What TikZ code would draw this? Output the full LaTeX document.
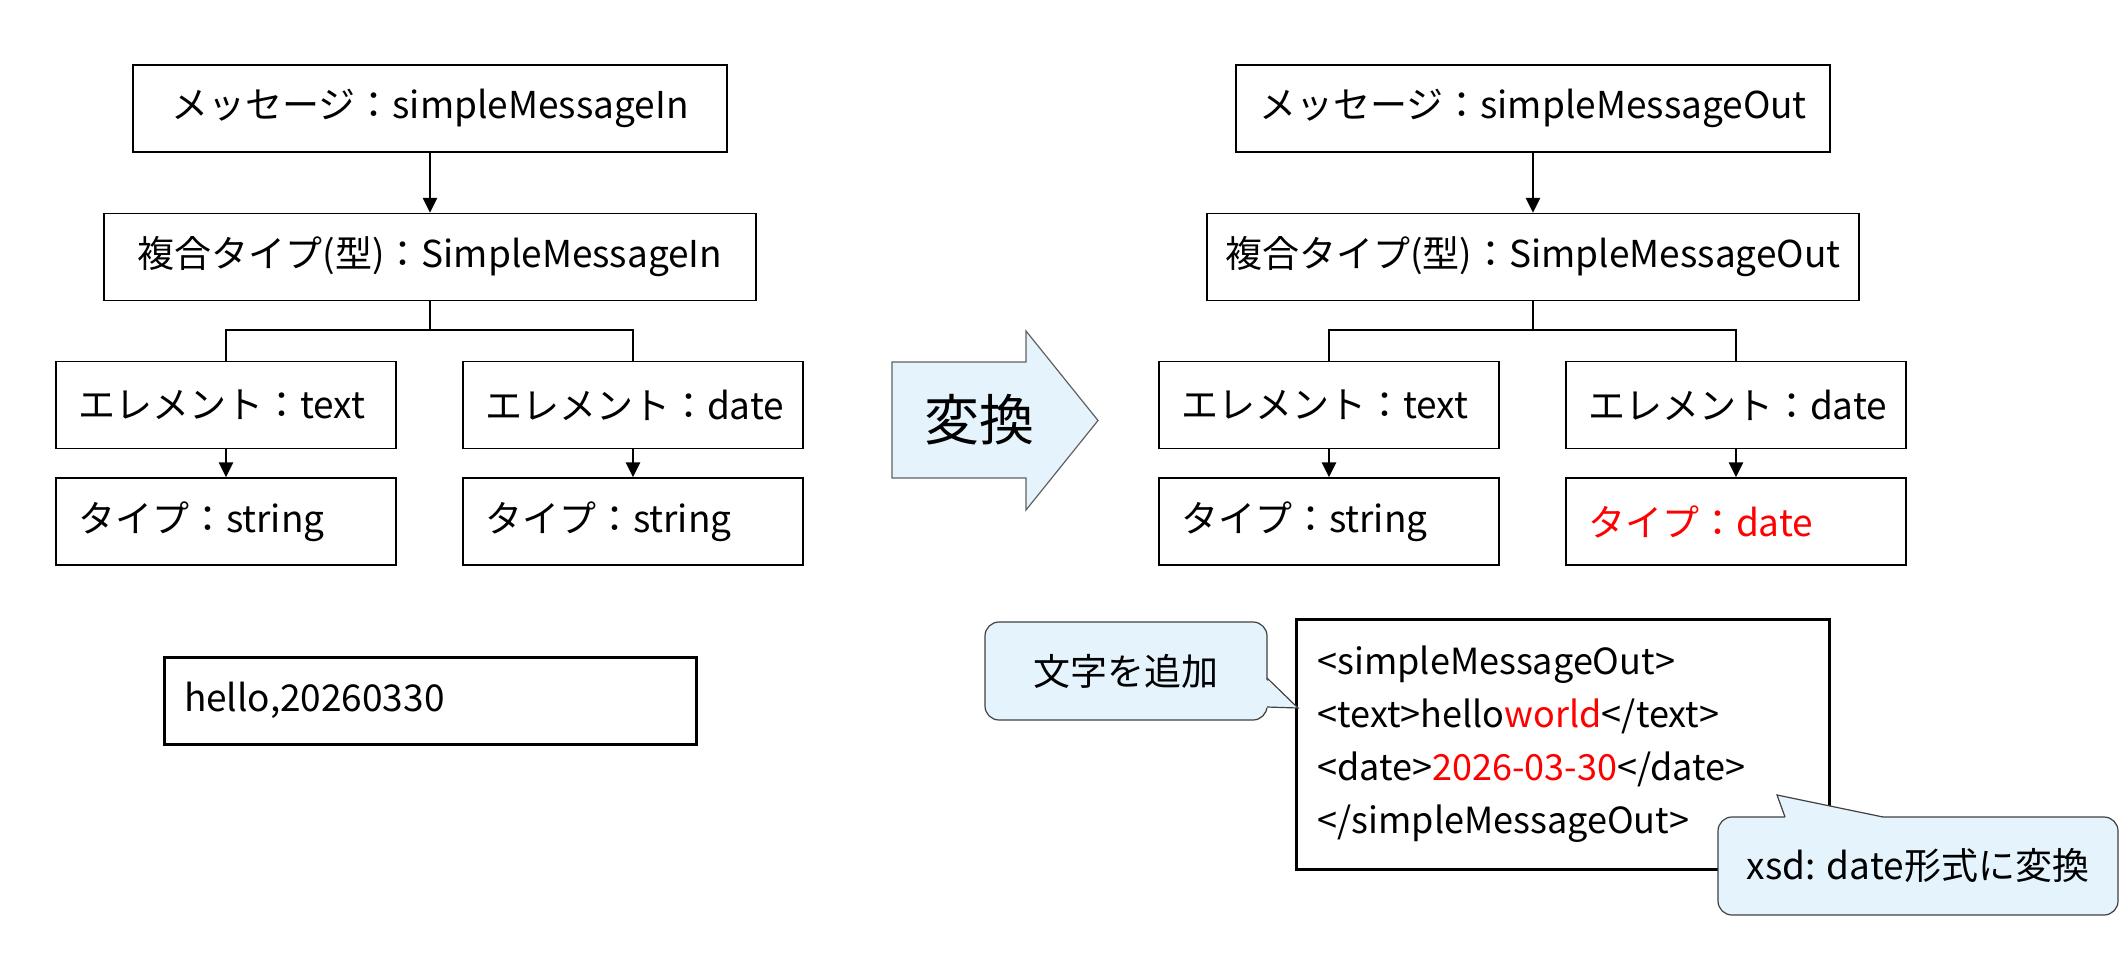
\documentclass[tikz,border=0pt]{standalone}
\usepackage{fontspec}
\setmainfont{Noto Sans CJK JP}
\usetikzlibrary{arrows.meta}
\definecolor{cfill}{HTML}{E5F4FC}
\definecolor{cborder}{HTML}{404040}
\definecolor{aborder}{HTML}{606060}
\newcommand\myfs{\fontsize{18.5pt}{22pt}\selectfont}
\begin{document}
\begin{tikzpicture}[x=0.5pt,y=-0.5pt,
  cbox/.style={draw, line width=0.65pt, minimum height=43.5pt, inner sep=0pt, font=\myfs},
  lbox/.style={draw, line width=0.65pt, minimum height=43.5pt, minimum width=170pt, text width=148pt, inner xsep=11pt, inner ysep=0pt, align=left, font=\myfs},
  dbox/.style={draw, line width=1.5pt, minimum height=43.5pt, text width=246pt, inner xsep=10pt, inner ysep=0pt, align=left, font=\myfs},
  xbox/.style={draw, line width=1.5pt, minimum height=125pt, text width=245.5pt, inner xsep=10.5pt, inner ysep=0pt, align=left, font=\fontsize{18pt}{26.5pt}\selectfont},
  callout/.style={draw=cborder, fill=cfill, line width=0.6pt, rounded corners=7pt, minimum height=49pt, inner sep=0pt, font=\myfs},
  arr/.style={line width=1.4pt, -{Triangle[length=7.5pt,width=7pt]}},
  conn/.style={line width=1.4pt}]
\useasboundingbox (0,0) rectangle (2128,952);

% left tree
\node[cbox, minimum width=297pt] (m1) at (430,108.5) {メッセージ：simpleMessageIn};
\node[cbox, minimum width=326pt] (c1) at (430,257) {複合タイプ(型)：SimpleMessageIn};
\node[lbox] (e1) at (226,405) {エレメント：text};
\node[lbox] (e2) at (633,405) {エレメント：date};
\node[lbox] (t1) at (226,521.5) {タイプ：string};
\node[lbox] (t2) at (633,521.5) {タイプ：string};
\coordinate (bus1) at (430,330);
\draw[arr] (m1) -- (c1);
\draw[conn] (c1.south) -- (bus1);
\draw[conn] (bus1) -| (e1.north);
\draw[conn] (bus1) -| (e2.north);
\draw[arr] (e1) -- (t1);
\draw[arr] (e2) -- (t2);
\node[dbox] (d1) at (430,700.5) {hello,20260330};

% transform arrow
\draw[draw=aborder, fill=cfill, line width=0.6pt] (892,362) -- (1026,362) -- (1026,331) -- (1098,420.5) -- (1026,510) -- (1026,478) -- (892,478) -- cycle;
\node[font=\fontsize{27.5pt}{30pt}\selectfont] (hen) at (979,420) {変換};

% right tree
\node[cbox, minimum width=297pt] (m2) at (1533,108.5) {メッセージ：simpleMessageOut};
\node[cbox, minimum width=326pt] (c2) at (1533,257) {複合タイプ(型)：SimpleMessageOut};
\node[lbox] (e3) at (1329,405) {エレメント：text};
\node[lbox] (e4) at (1736,405) {エレメント：date};
\node[lbox] (t3) at (1329,521.5) {タイプ：string};
\node[lbox] (t4) at (1736,521.5) {\color{red}タイプ：date};
\coordinate (bus2) at (1533,330);
\draw[arr] (m2) -- (c2);
\draw[conn] (c2.south) -- (bus2);
\draw[conn] (bus2) -| (e3.north);
\draw[conn] (bus2) -| (e4.north);
\draw[arr] (e3) -- (t3);
\draw[arr] (e4) -- (t4);

\node[xbox] (x1) at (1563,744) {<simpleMessageOut>\\<text>hello\textcolor{red}{world}</text>\\<date>\textcolor{red}{2026-03-30}</date>\\</simpleMessageOut>};

% callouts
\node[callout, minimum width=141pt] (k1) at (1126,671) {文字を追加};
\coordinate (tip1) at (1298,708);
\fill[cfill] (1263,677) -- (tip1) -- (1263,707.5) -- cycle;
\draw[cborder, line width=0.6pt, line join=miter] (1267,678) -- (tip1) -- (1267,707);

\node[callout, minimum width=200pt] (k2) at (1918,866) {xsd: date形式に変換};
\coordinate (tip2) at (1777,795);
\fill[cfill] (1785,817) -- (tip2) -- (1883,817) -- (1883,821) -- (1786,821) -- cycle;
\draw[cborder, line width=0.6pt, line join=miter] (1785,817) -- (tip2) -- (1883,817);
\end{tikzpicture}
\end{document}
